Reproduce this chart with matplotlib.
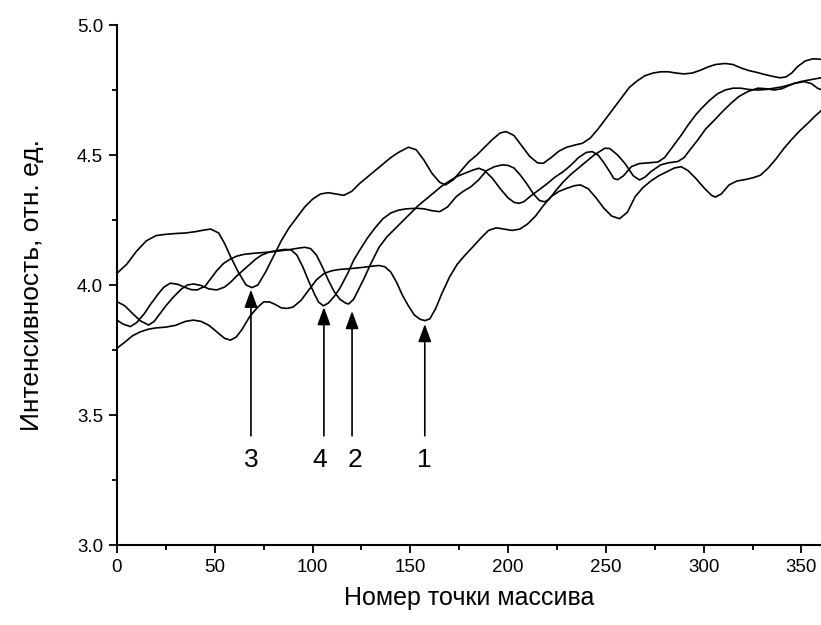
import matplotlib
matplotlib.use('Agg')
import matplotlib.pyplot as plt
from matplotlib.ticker import MultipleLocator, FormatStrFormatter
from matplotlib import font_manager

names = {f.name for f in font_manager.fontManager.ttflist}
font = 'Liberation Sans' if 'Liberation Sans' in names else 'DejaVu Sans'
plt.rcParams['font.family'] = [font, 'DejaVu Sans']

# curve 1 (lowest, minimum near x=157)
x1 = [0, 4, 8, 12, 16, 20, 25, 30, 35, 39, 43, 47, 51, 55, 58, 61, 64, 68, 72, 75,
      78, 81, 84, 87, 90, 94, 98, 102, 106, 110, 114, 118, 122, 126, 130, 134, 137,
      140, 143, 146, 149, 152, 155, 157.5, 160, 163, 166, 170, 174, 178, 182, 186,
      190, 194, 198, 202, 206, 210, 214, 218, 222, 226, 230, 234, 237, 241, 245, 249,
      253, 257, 261, 265, 269, 273, 277, 281, 285, 288.5, 292, 296, 300, 304, 306,
      309, 313, 317, 321, 325, 329, 333, 337, 341, 345, 349, 353, 357, 360]
y1 = [3.757, 3.78, 3.805, 3.82, 3.83, 3.835, 3.838, 3.845, 3.86, 3.865, 3.86, 3.845,
      3.82, 3.795, 3.788, 3.8, 3.83, 3.88, 3.915, 3.935, 3.935, 3.925, 3.912, 3.91,
      3.915, 3.94, 3.98, 4.02, 4.045, 4.055, 4.06, 4.062, 4.065, 4.068, 4.072, 4.075,
      4.07, 4.05, 4.01, 3.96, 3.92, 3.885, 3.868, 3.863, 3.87, 3.91, 3.965, 4.03, 4.08,
      4.115, 4.147, 4.18, 4.21, 4.22, 4.215, 4.21, 4.215, 4.235, 4.265, 4.305, 4.34,
      4.36, 4.372, 4.382, 4.385, 4.37, 4.335, 4.295, 4.265, 4.255, 4.28, 4.34, 4.375,
      4.4, 4.42, 4.435, 4.45, 4.455, 4.44, 4.41, 4.375, 4.345, 4.338, 4.35, 4.385,
      4.4, 4.405, 4.412, 4.422, 4.45, 4.485, 4.525, 4.56, 4.592, 4.62, 4.65, 4.67]

# curve 2 (minimum near x=118)
x2 = [0, 3, 6.8, 10, 14, 17, 21, 24, 27.3, 31, 35, 38, 41, 45, 48, 51, 54.5, 58, 61.3,
      65, 70, 75, 80, 85, 89, 93, 96, 99, 102, 105, 108, 111, 114, 117, 118.5, 121,
      124, 126, 130, 134, 138, 142, 146, 150, 154, 158, 162, 166, 170, 174, 178, 182,
      185, 188, 192, 196, 200, 203, 205.5, 208, 212, 216, 220, 224, 228, 232, 236,
      240, 243, 246, 249, 252, 254, 256, 259, 263, 267, 272, 276.6, 280, 284, 288.5,
      292, 296, 299, 303, 307, 311, 315, 319, 323, 327.7, 332, 336, 340, 345, 350,
      355, 360]
y2 = [3.865, 3.85, 3.84, 3.855, 3.89, 3.924, 3.965, 3.992, 4.007, 4.003, 3.99, 3.982,
      3.981, 3.995, 4.025, 4.055, 4.083, 4.1, 4.111, 4.118, 4.122, 4.125, 4.128, 4.133,
      4.137, 4.142, 4.145, 4.14, 4.115, 4.07, 4.02, 3.975, 3.945, 3.93, 3.927, 3.945,
      3.99, 4.02, 4.085, 4.145, 4.185, 4.215, 4.245, 4.275, 4.305, 4.33, 4.355, 4.38,
      4.4, 4.418, 4.43, 4.442, 4.449, 4.44, 4.41, 4.37, 4.335, 4.318, 4.314, 4.32,
      4.345, 4.367, 4.39, 4.415, 4.435, 4.46, 4.49, 4.51, 4.513, 4.5, 4.47, 4.435,
      4.41, 4.405, 4.42, 4.455, 4.467, 4.47, 4.473, 4.49, 4.53, 4.576, 4.615, 4.655,
      4.68, 4.71, 4.735, 4.75, 4.757, 4.757, 4.752, 4.75, 4.752, 4.757, 4.762, 4.772,
      4.783, 4.79, 4.797]

# curve 3 (top, minimum near x=69)
x3 = [0, 5, 10, 15, 20, 25, 30, 35, 40, 45, 48, 52, 55, 58, 62, 66, 69, 72, 76, 80,
      84, 88, 92, 96, 100, 104, 108, 112, 116, 120, 124, 128, 132, 136, 140, 144, 149,
      153, 157, 161, 165, 168, 172, 176, 180, 184, 188, 192, 196, 199, 203, 207, 211,
      215, 218, 222, 226, 230, 234, 238, 242, 246, 250, 254, 258, 262, 266, 270, 274,
      278, 282, 286, 290, 294, 298, 302, 306, 311, 315, 319, 323, 327, 331, 335, 339,
      342, 345, 348, 352, 356, 360]
y3 = [4.045, 4.08, 4.13, 4.17, 4.19, 4.195, 4.198, 4.2, 4.205, 4.212, 4.215, 4.2, 4.16,
      4.11, 4.05, 4.0, 3.99, 4.0, 4.05, 4.11, 4.17, 4.22, 4.26, 4.3, 4.33, 4.35, 4.355,
      4.35, 4.345, 4.36, 4.39, 4.415, 4.44, 4.465, 4.49, 4.51, 4.53, 4.52, 4.48, 4.43,
      4.395, 4.385, 4.405, 4.44, 4.475, 4.5, 4.53, 4.56, 4.585, 4.59, 4.575, 4.535,
      4.495, 4.47, 4.468, 4.49, 4.515, 4.53, 4.538, 4.545, 4.565, 4.6, 4.64, 4.68, 4.72,
      4.76, 4.785, 4.805, 4.815, 4.82, 4.82, 4.815, 4.812, 4.815, 4.825, 4.838, 4.848,
      4.852, 4.848, 4.835, 4.825, 4.818, 4.81, 4.803, 4.797, 4.8, 4.815, 4.84, 4.862,
      4.87, 4.868]

# curve 4 (minimum near x=105)
x4 = [0, 4, 8, 12, 16.2, 19, 22, 25, 29, 33, 36, 39.2, 43, 47, 51, 55, 58, 61, 64.7,
      68, 71, 74, 78.4, 82, 86, 89, 92, 95, 98, 101, 103, 105.5, 108, 111, 114, 118,
      121, 124.2, 128, 132, 136, 140, 144, 148, 153, 157, 161, 165, 169, 173.5, 177,
      181, 185, 189, 193, 197, 200, 203, 206, 209.3, 213, 216, 218.7, 221, 224.6, 228,
      232, 236, 240, 244, 249.4, 252, 256, 260, 264, 267.2, 270, 273, 278, 282, 286.8,
      290, 293, 297, 301, 305.6, 310, 314, 318, 322.6, 327.7, 332, 336, 340, 343,
      346.4, 351.5, 355, 358.4, 360]
y4 = [3.936, 3.92, 3.89, 3.862, 3.846, 3.86, 3.89, 3.92, 3.955, 3.985, 4.0, 4.004,
      3.998, 3.985, 3.981, 3.992, 4.01, 4.033, 4.058, 4.08, 4.1, 4.115, 4.128, 4.133,
      4.137, 4.135, 4.115, 4.07, 4.015, 3.965, 3.935, 3.92, 3.93, 3.955, 3.988, 4.045,
      4.095, 4.135, 4.18, 4.22, 4.255, 4.277, 4.288, 4.293, 4.295, 4.293, 4.286, 4.282,
      4.3, 4.34, 4.36, 4.378, 4.405, 4.44, 4.455, 4.462, 4.46, 4.45, 4.425, 4.392, 4.35,
      4.325, 4.32, 4.33, 4.365, 4.395, 4.425, 4.45, 4.475, 4.5, 4.526, 4.525, 4.5,
      4.465, 4.42, 4.404, 4.415, 4.436, 4.462, 4.47, 4.475, 4.49, 4.52, 4.558, 4.6,
      4.635, 4.67, 4.699, 4.725, 4.744, 4.757, 4.755, 4.75, 4.755, 4.765, 4.776, 4.782,
      4.775, 4.756, 4.752]

# arrows marking the minima, and their numbers
arrow_labels = ['1', '2', '3', '4']
arrow_x = [157.4, 120.2, 68.5, 105.8]
arrow_tip = [3.85, 3.9, 3.982, 3.915]
arrow_tail = 3.42
label_x = [157.4, 121.6, 68.5, 103.4]
label_y = 3.327

fig = plt.figure(figsize=(8.21, 6.25), dpi=100)
ax = fig.add_axes([0.1425, 0.128, 0.8575, 0.832])

for xs, ys in [(x1, y1), (x2, y2), (x3, y3), (x4, y4)]:
    ax.plot(xs, ys, color='black', lw=1.2, solid_joinstyle='round')

for lab, xa, tip, xl in zip(arrow_labels, arrow_x, arrow_tip, label_x):
    ax.annotate('', xy=(xa, tip), xytext=(xa, arrow_tail),
                arrowprops=dict(arrowstyle='-|>,head_length=0.6,head_width=0.22',
                                mutation_scale=18, lw=1.2, color='black',
                                shrinkA=0, shrinkB=0))
    ax.text(xl, label_y, lab, ha='center', va='center', fontsize=19)

ax.set_xlim(0, 360)
ax.set_ylim(3.0, 5.0)
ax.xaxis.set_major_locator(MultipleLocator(50))
ax.xaxis.set_minor_locator(MultipleLocator(25))
ax.yaxis.set_major_locator(MultipleLocator(0.5))
ax.yaxis.set_minor_locator(MultipleLocator(0.25))
ax.yaxis.set_major_formatter(FormatStrFormatter('%.1f'))

for side in ['top', 'right']:
    ax.spines[side].set_visible(False)
for side in ['left', 'bottom']:
    ax.spines[side].set_linewidth(1.5)

ax.tick_params(which='major', direction='out', length=6, width=1.3, labelsize=13.5, pad=4)
ax.tick_params(which='minor', direction='out', length=3.5, width=1.3)

ax.set_xlabel('Номер точки массива', fontsize=18, labelpad=7)
ax.set_ylabel('Интенсивность, отн. ед.', fontsize=19, labelpad=24)

fig.savefig('out.png', dpi=100)
